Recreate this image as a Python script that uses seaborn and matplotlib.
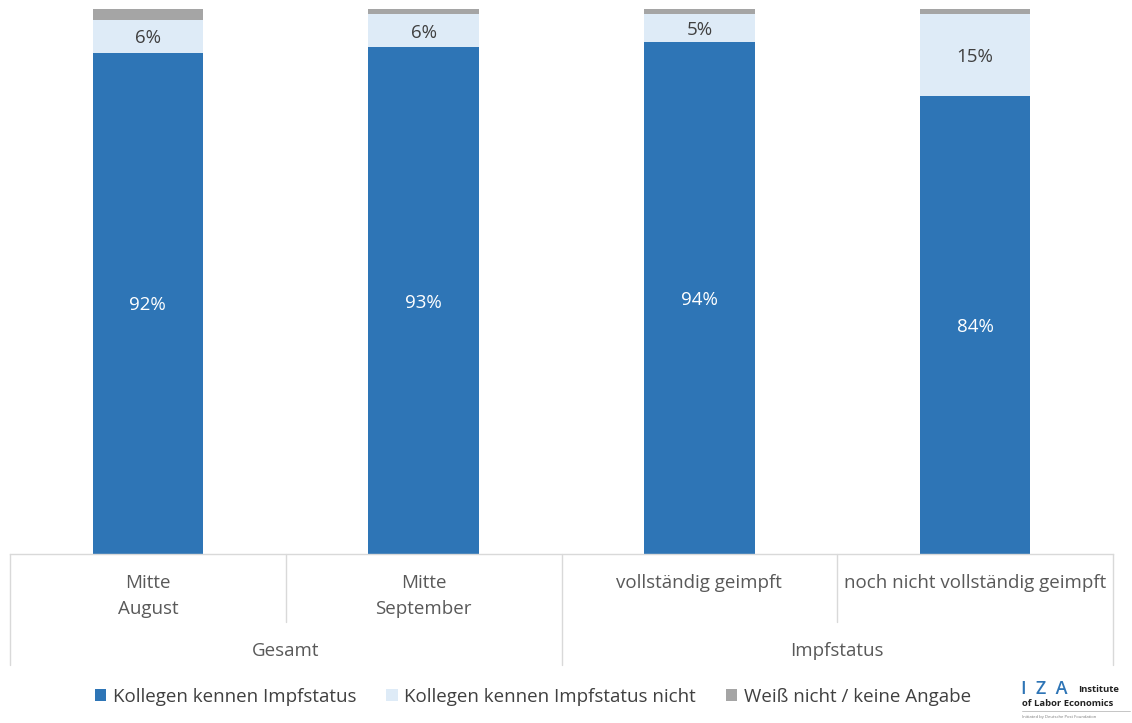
import matplotlib
matplotlib.use("Agg")
import matplotlib.pyplot as plt
import matplotlib.transforms as mtransforms
from matplotlib.lines import Line2D
from matplotlib.patches import Patch
import seaborn as sns
import pandas as pd

categories = ["Mitte\nAugust", "Mitte\nSeptember", "vollständig geimpft", "noch nicht vollständig geimpft"]
groups = ["Gesamt", "Impfstatus"]
kennen = [92, 93, 94, 84]
kennen_nicht = [6, 6, 5, 15]
weiss_nicht = [2, 1, 1, 1.5]
series_names = ["Kollegen kennen Impfstatus", "Kollegen kennen Impfstatus nicht", "Weiß nicht / keine Angabe"]
colors = ["#2E75B6", "#DEEBF7", "#A5A5A5"]

sns.set_theme(style="white")
plt.rcParams["font.family"] = ["Open Sans", "DejaVu Sans"]

W, H = 1132, 723
FS = 13.5
fig = plt.figure(figsize=(W / 100, H / 100), dpi=100)
ax = fig.add_axes([10 / W, (H - 554) / H, (1113 - 10) / W, 545 / H])

x_idx = list(range(len(categories)))
df = pd.DataFrame({
    "cat": x_idx,
    "k": kennen,
    "kn": [a + b for a, b in zip(kennen, kennen_nicht)],
    "tot": [a + b + c for a, b, c in zip(kennen, kennen_nicht, weiss_nicht)],
})

for col, c in zip(["tot", "kn", "k"], [colors[2], colors[1], colors[0]]):
    sns.barplot(data=df, x="cat", y=col, color=c, width=0.4, saturation=1,
                ax=ax, order=x_idx, linewidth=0)

ax.set_xlim(-0.5, 3.5)
ax.set_ylim(0, 100)
ax.set_xlabel("")
ax.set_ylabel("")
ax.set_xticks([])
ax.set_yticks([])
for s in ["top", "left", "right"]:
    ax.spines[s].set_visible(False)
ax.spines["bottom"].set_color("#D9D9D9")
ax.spines["bottom"].set_linewidth(1)

# value labels
for i in x_idx:
    ax.text(i, kennen[i] / 2, f"{kennen[i]}%", ha="center", va="center_baseline",
            color="white", fontsize=FS)
    ax.text(i, kennen[i] + kennen_nicht[i] / 2, f"{kennen_nicht[i]}%", ha="center",
            va="center_baseline", color="#404040", fontsize=FS)

# category axis labels
blend = mtransforms.blended_transform_factory(ax.transData, fig.transFigure)
def fy(py):
    return (H - py) / H

for i, lab in enumerate(categories):
    ax.text(i, fy(574), lab, transform=blend, ha="center", va="top",
            color="#595959", fontsize=FS, linespacing=1.58)
for g, lab in enumerate(groups):
    ax.text(0.5 + 2 * g, fy(651), lab, transform=blend, ha="center", va="center",
            color="#595959", fontsize=FS)

# separator lines
for xv, bottom in [(-0.5, 665), (0.5, 622), (1.5, 665), (2.5, 622), (3.5, 665)]:
    ax.add_line(Line2D([xv, xv], [fy(554), fy(bottom)], transform=blend,
                       color="#D9D9D9", linewidth=1, clip_on=False))

# legend
handles = [Patch(facecolor=c, edgecolor="none") for c in colors]
fig.legend(handles, series_names, loc="center", bbox_to_anchor=(533 / W, fy(697)),
           ncol=3, frameon=False, fontsize=FS, handlelength=0.6, handleheight=0.6,
           handletextpad=0.35, columnspacing=1.6, labelcolor="#404040")

# logo
fig.text(1021 / W, fy(689), "I  Z  A", color="#2E75B6", fontsize=13,
         fontweight="semibold", ha="left", va="center")
fig.text(1078 / W, fy(690), "Institute", color="#222222", fontsize=6.8,
         fontweight="bold", ha="left", va="center")
fig.text(1022 / W, fy(704), "of Labor Economics", color="#222222", fontsize=6.8,
         fontweight="bold", ha="left", va="center")
fig.add_artist(Line2D([1022 / W, 1130 / W], [fy(711), fy(711)], color="#BBBBBB",
                      linewidth=0.6, transform=fig.transFigure))
fig.text(1022 / W, fy(717), "Initiated by Deutsche Post Foundation", color="#777777",
         fontsize=3, ha="left", va="center")

fig.savefig("out.png", dpi=100)
